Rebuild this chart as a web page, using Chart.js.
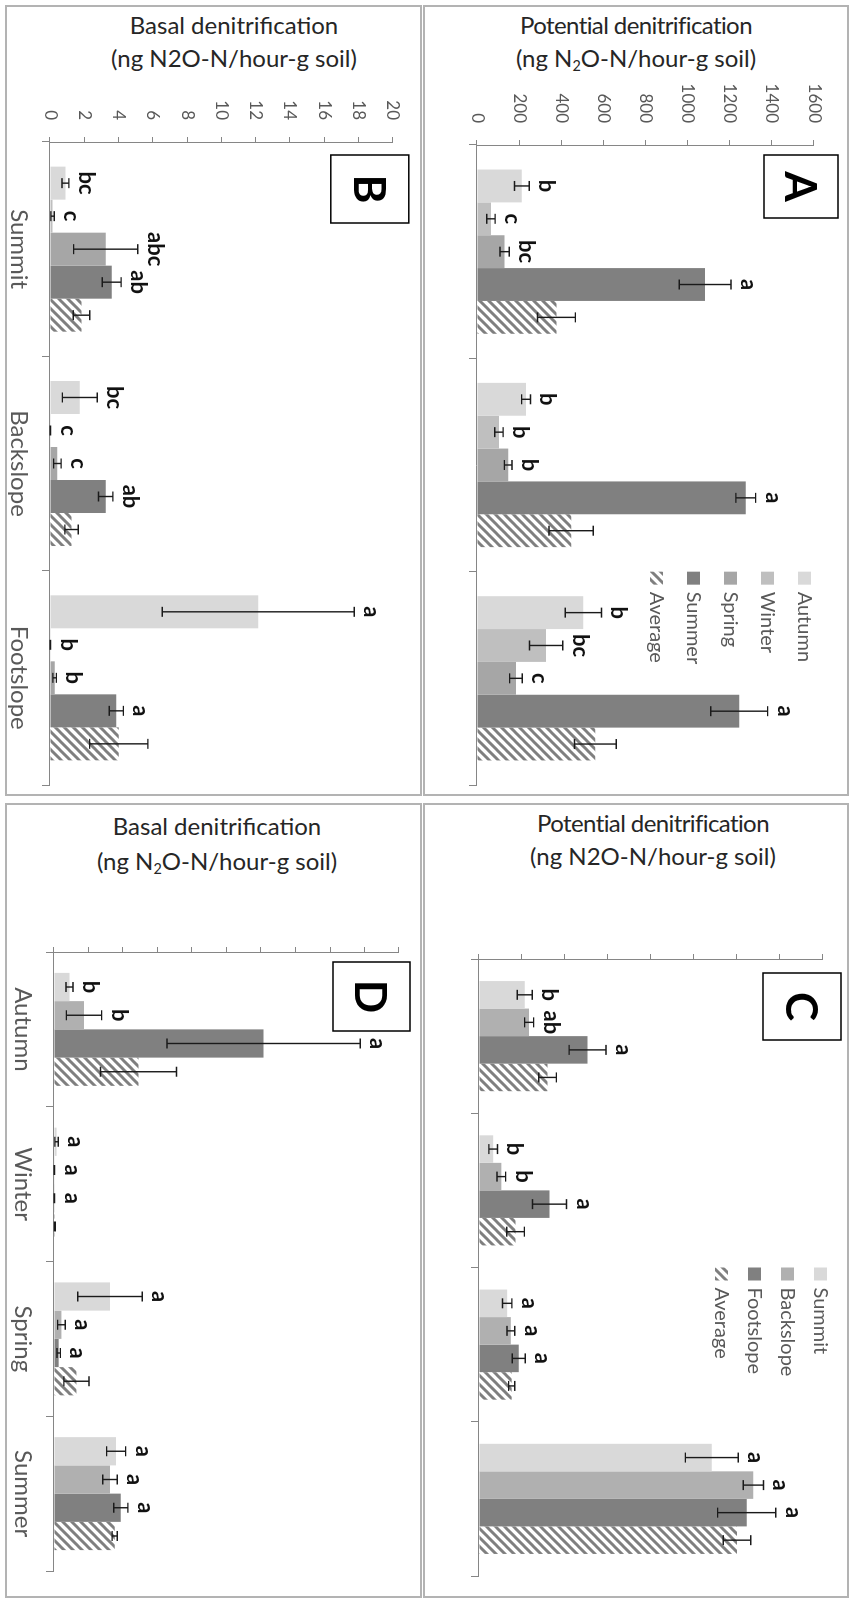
<!DOCTYPE html>
<html>
<head>
<meta charset="utf-8">
<script src="https://cdn.jsdelivr.net/npm/chart.js@4.4.1/dist/chart.umd.min.js"></script>
<style>
  body { margin: 0; background: #fff; width: 854px; height: 1600px; position: relative; overflow: hidden; font-family: Lato, sans-serif; }
  .panel { position: absolute; border: 2px solid #b3b3b3; box-sizing: border-box; }
  .title { position: absolute; width: 400px; text-align: center; color: #262626; font-size: 24px; line-height: 30px; white-space: nowrap; }
  .title.tight { letter-spacing: -0.6px; }
  .title sub { font-size: 60%; line-height: 0; vertical-align: -0.3em; }
  .rot { position: absolute; transform-origin: 0 0; }
</style>
</head>
<body>
<div class="panel" style="left:5px;top:5px;width:417px;height:791px"></div>
<div class="panel" style="left:423px;top:5px;width:426px;height:791px"></div>
<div class="panel" style="left:5px;top:803px;width:417px;height:795px"></div>
<div class="panel" style="left:423px;top:803px;width:426px;height:795px"></div>

<div class="title tight" style="left:436px;top:10px">Potential denitrification</div>
<div class="title" style="left:436px;top:43px">(ng N<sub>2</sub>O-N/hour-g soil)</div>
<div class="title" style="left:34px;top:10px">Basal denitrification</div>
<div class="title" style="left:34px;top:43px">(ng N2O-N/hour-g soil)</div>
<div class="title tight" style="left:453px;top:808px">Potential denitrification</div>
<div class="title" style="left:453px;top:841px">(ng N2O-N/hour-g soil)</div>
<div class="title" style="left:17px;top:811px">Basal denitrification</div>
<div class="title" style="left:17px;top:846px">(ng N<sub>2</sub>O-N/hour-g soil)</div>

<canvas id="chart-a" class="rot"></canvas>
<canvas id="chart-b" class="rot"></canvas>
<canvas id="chart-c" class="rot"></canvas>
<canvas id="chart-d" class="rot"></canvas>

<script>
// ---- data ----
const positions = ['Summit', 'Backslope', 'Footslope'];
const seasons = ['Autumn', 'Winter', 'Spring', 'Summer'];
const potentialTicks = [0, 200, 400, 600, 800, 1000, 1200, 1400, 1600];
const basalTicks = [0, 2, 4, 6, 8, 10, 12, 14, 16, 18, 20];

// potential denitrification, values per position (Summit, Backslope, Footslope)
const potAutumn = [213, 233, 505];
const potAutumnErr = [35, 21, 86];
const potWinter = [66, 104, 328];
const potWinterErr = [20, 20, 79];
const potSpring = [131, 148, 185];
const potSpringErr = [22, 18, 30];
const potSummer = [1083, 1276, 1245];
const potSummerErr = [123, 47, 135];
const potAvgByPosition = [377, 447, 562];
const potAvgByPositionErr = [90, 105, 99];
const potAvgBySeason = [319, 170, 152, 1200];
const potAvgBySeasonErr = [41, 41, 14, 64];

// significance letters, panel A (per season) and panel C (per position)
const potLetAutumn = ['b', 'b', 'b'];
const potLetWinter = ['c', 'b', 'bc'];
const potLetSpring = ['bc', 'b', 'c'];
const potLetSummer = ['a', 'a', 'a'];
const potLetSummit = ['b', 'b', 'a', 'a'];
const potLetBackslope = ['ab', 'b', 'a', 'a'];
const potLetFootslope = ['a', 'a', 'a', 'a'];

// basal denitrification, values per position
const basAutumn = [0.9, 1.74, 12.15];
const basAutumnErr = [0.2, 1.02, 5.6];
const basWinter = [0.15, 0.02, 0.02];
const basWinterErr = [0.1, 0.01, 0.01];
const basSpring = [3.25, 0.43, 0.27];
const basSpringErr = [1.87, 0.22, 0.1];
const basSummer = [3.6, 3.25, 3.87];
const basSummerErr = [0.55, 0.42, 0.41];
const basAvgByPosition = [1.84, 1.26, 4.01];
const basAvgByPositionErr = [0.48, 0.39, 1.7];
const basAvgBySeason = [4.9, 0.05, 1.3, 3.52];
const basAvgBySeasonErr = [2.2, 0.03, 0.73, 0.15];

const basLetAutumn = ['bc', 'bc', 'a'];
const basLetWinter = ['c', 'c', 'b'];
const basLetSpring = ['abc', 'c', 'b'];
const basLetSummer = ['ab', 'ab', 'a'];
const basLetSummit = ['b', 'a', 'a', 'a'];
const basLetBackslope = ['b', 'a', 'a', 'a'];
const basLetFootslope = ['a', 'a', 'a', 'a'];

// ---- styling ----
const AXIS = '#868686';
const TEXT = '#595959';
const seasonColors = ['#d9d9d9', '#bfbfbf', '#a6a6a6', '#808080'];
const positionColors = ['#d9d9d9', '#b0b0b0', '#808080'];
Chart.defaults.font.family = 'Lato';

function hatch() {
  const c = document.createElement('canvas');
  c.width = c.height = 9;
  const g = c.getContext('2d');
  g.strokeStyle = '#7f7f7f';
  g.lineWidth = 3;
  g.beginPath();
  g.moveTo(0, 9); g.lineTo(9, 0);
  g.moveTo(-3, 3); g.lineTo(3, -3);
  g.moveTo(6, 12); g.lineTo(12, 6);
  g.stroke();
  return g.createPattern(c, 'repeat');
}
const HATCH = hatch();

// column i of a set of per-season rows -> one value per season
const column = (rows, i) => rows.map(r => r[i]);

function extras(spec) {
  return {
    id: 'extras',
    afterDatasetsDraw(chart) {
      const ctx = chart.ctx;
      const y = chart.scales.y;
      const ca = chart.chartArea;
      ctx.save();
      // error bars + letters
      chart.data.datasets.forEach((ds, di) => {
        chart.getDatasetMeta(di).data.forEach((bar, i) => {
          const v = ds.data[i];
          const e = ds.errors[i];
          const top = y.getPixelForValue(v + e);
          if (e > 0) {
            const bot = y.getPixelForValue(Math.max(v - e, 0));
            ctx.strokeStyle = '#1a1a1a';
            ctx.lineWidth = 1.4;
            ctx.beginPath();
            ctx.moveTo(bar.x, top); ctx.lineTo(bar.x, bot);
            ctx.moveTo(bar.x - 5, top); ctx.lineTo(bar.x + 5, top);
            ctx.moveTo(bar.x - 5, bot); ctx.lineTo(bar.x + 5, bot);
            ctx.stroke();
          }
          if (ds.letters) {
            ctx.fillStyle = '#111';
            ctx.font = 'bold 22px Lato';
            ctx.textAlign = 'center';
            ctx.textBaseline = 'alphabetic';
            ctx.fillText(ds.letters[i], bar.x, top - 10);
          }
        });
      });
      // panel letter box
      const b = spec.box;
      ctx.strokeStyle = '#000';
      ctx.lineWidth = 1.5;
      ctx.strokeRect(ca.left + b.dx, ca.top + b.dy, b.w, b.h);
      ctx.fillStyle = '#000';
      ctx.font = 'bold 44px Lato';
      ctx.textAlign = 'center';
      ctx.textBaseline = 'middle';
      ctx.fillText(b.letter, ca.left + b.dx + b.w / 2, ca.top + b.dy + b.h / 2 + 2);
      // legend, floated over the last categories
      if (spec.legend) {
        const L = spec.legend;
        const x = chart.scales.x;
        const lx = (x.getPixelForValue(L.afterCat - 1) + x.getPixelForValue(L.afterCat)) / 2;
        ctx.font = '20px Lato';
        ctx.textAlign = 'left';
        ctx.textBaseline = 'middle';
        chart.data.datasets.forEach((ds, di) => {
          const ty = ca.top + L.dy + di * L.gap;
          ctx.fillStyle = ds.backgroundColor;
          ctx.fillRect(lx, ty, 13, 13);
          ctx.fillStyle = TEXT;
          ctx.fillText(ds.label, lx + 20, ty + 7);
        });
      }
      ctx.restore();
    }
  };
}

function makePanel(id, place, cfg) {
  const canvas = document.getElementById(id);
  canvas.width = place.w;
  canvas.height = place.h;
  canvas.style.left = place.left + 'px';
  canvas.style.top = place.top + 'px';
  canvas.style.transform = 'translateX(' + place.h + 'px) rotate(90deg)';

  const g = cfg.geom;
  return new Chart(canvas, {
    type: 'bar',
    data: {
      labels: cfg.labels,
      datasets: cfg.series.map(s => ({
        label: s.label,
        data: s.data,
        errors: s.err,
        letters: s.letters,
        backgroundColor: s.color,
        borderWidth: 0,
        categoryPercentage: cfg.catPct,
        barPercentage: 1,
      })),
    },
    options: {
      responsive: false,
      animation: false,
      devicePixelRatio: 1,
      layout: { padding: { top: g.padTop, right: g.padRight, left: 0, bottom: 0 } },
      plugins: { legend: { display: false }, tooltip: { enabled: false } },
      scales: {
        x: {
          offset: true,
          grid: { offset: true, drawOnChartArea: false, tickLength: 8, color: AXIS },
          border: { color: AXIS },
          ticks: { display: cfg.catLabels, font: { size: 24 }, color: TEXT, padding: 9, maxRotation: 0, autoSkip: false },
          afterFit: s => { s.height = g.axisH; },
        },
        y: {
          min: 0,
          max: cfg.ticks[cfg.ticks.length - 1],
          grid: { drawOnChartArea: false, tickLength: 5, color: AXIS },
          border: { color: AXIS },
          ticks: { display: cfg.valueLabels, font: { size: 17 }, color: TEXT, padding: 17, callback: v => String(v) },
          afterBuildTicks: s => { s.ticks = cfg.ticks.map(v => ({ value: v })); },
          afterFit: s => { s.width = g.axisW; },
        },
      },
    },
    plugins: [extras(cfg)],
  });
}

// Panel A: potential, grouped by position, one bar per season
makePanel('chart-a', { left: 430, top: 75, w: 722, h: 418 }, {
  labels: positions,
  ticks: potentialTicks,
  valueLabels: true,
  catLabels: false,
  catPct: 0.77,
  geom: { axisW: 70, axisH: 47, padTop: 34, padRight: 12 },
  box: { letter: 'A', dx: 10, dy: -24, w: 63, h: 74 },
  legend: { afterCat: 2, dy: 3, gap: 37 },
  series: [
    { label: 'Autumn', data: potAutumn, err: potAutumnErr, letters: potLetAutumn, color: seasonColors[0] },
    { label: 'Winter', data: potWinter, err: potWinterErr, letters: potLetWinter, color: seasonColors[1] },
    { label: 'Spring', data: potSpring, err: potSpringErr, letters: potLetSpring, color: seasonColors[2] },
    { label: 'Summer', data: potSummer, err: potSummerErr, letters: potLetSummer, color: seasonColors[3] },
    { label: 'Average', data: potAvgByPosition, err: potAvgByPositionErr, color: HATCH },
  ],
});

// Panel B: basal, grouped by position
makePanel('chart-b', { left: 8, top: 75, w: 722, h: 412 }, {
  labels: positions,
  ticks: basalTicks,
  valueLabels: true,
  catLabels: true,
  catPct: 0.77,
  geom: { axisW: 67, axisH: 42, padTop: 26, padRight: 12 },
  box: { letter: 'B', dx: 13, dy: -16, w: 68, h: 78 },
  series: [
    { label: 'Autumn', data: basAutumn, err: basAutumnErr, letters: basLetAutumn, color: seasonColors[0] },
    { label: 'Winter', data: basWinter, err: basWinterErr, letters: basLetWinter, color: seasonColors[1] },
    { label: 'Spring', data: basSpring, err: basSpringErr, letters: basLetSpring, color: seasonColors[2] },
    { label: 'Summer', data: basSummer, err: basSummerErr, letters: basLetSummer, color: seasonColors[3] },
    { label: 'Average', data: basAvgByPosition, err: basAvgByPositionErr, color: HATCH },
  ],
});

// Panel C: potential, grouped by season, one bar per position
const potRows = [potAutumn, potWinter, potSpring, potSummer];
const potErrRows = [potAutumnErr, potWinterErr, potSpringErr, potSummerErr];
makePanel('chart-c', { left: 430, top: 880, w: 717, h: 418 }, {
  labels: seasons,
  ticks: potentialTicks,
  valueLabels: false,
  catLabels: false,
  catPct: 0.714,
  geom: { axisW: 79, axisH: 49, padTop: 25, padRight: 21 },
  box: { letter: 'C', dx: 14, dy: -18, w: 67, h: 78 },
  legend: { afterCat: 2, dy: -4, gap: 33 },
  series: [
    { label: 'Summit', data: column(potRows, 0), err: column(potErrRows, 0), letters: potLetSummit, color: positionColors[0] },
    { label: 'Backslope', data: column(potRows, 1), err: column(potErrRows, 1), letters: potLetBackslope, color: positionColors[1] },
    { label: 'Footslope', data: column(potRows, 2), err: column(potErrRows, 2), letters: potLetFootslope, color: positionColors[2] },
    { label: 'Average', data: potAvgBySeason, err: potAvgBySeasonErr, color: HATCH },
  ],
});

// Panel D: basal, grouped by season
const basRows = [basAutumn, basWinter, basSpring, basSummer];
const basErrRows = [basAutumnErr, basWinterErr, basSpringErr, basSummerErr];
makePanel('chart-d', { left: 8, top: 880, w: 717, h: 412 }, {
  labels: seasons,
  ticks: basalTicks,
  valueLabels: false,
  catLabels: true,
  catPct: 0.73,
  geom: { axisW: 72, axisH: 46, padTop: 21, padRight: 26 },
  box: { letter: 'D', dx: 10, dy: -11, w: 69, h: 77 },
  series: [
    { label: 'Summit', data: column(basRows, 0), err: column(basErrRows, 0), letters: basLetSummit, color: positionColors[0] },
    { label: 'Backslope', data: column(basRows, 1), err: column(basErrRows, 1), letters: basLetBackslope, color: positionColors[1] },
    { label: 'Footslope', data: column(basRows, 2), err: column(basErrRows, 2), letters: basLetFootslope, color: positionColors[2] },
    { label: 'Average', data: basAvgBySeason, err: basAvgBySeasonErr, color: HATCH },
  ],
});
</script>
</body>
</html>
